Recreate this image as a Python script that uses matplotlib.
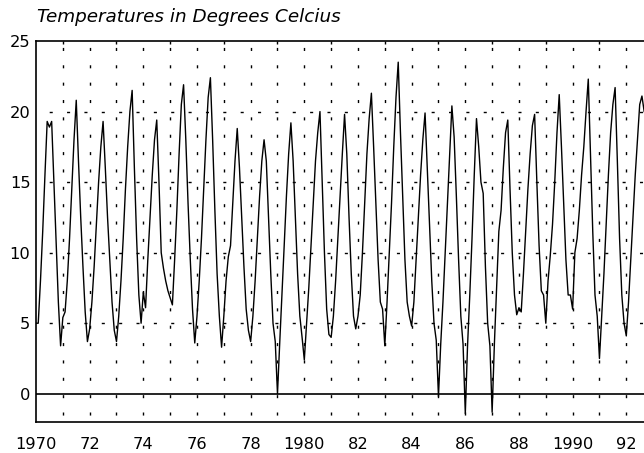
import matplotlib
matplotlib.use("Agg")
import matplotlib.pyplot as plt
import numpy as np

# monthly temperatures (Jan..Dec)
y1970 = [5.0, 5.0, 8.0, 11.5, 15.5, 19.3, 18.9, 19.3, 15.0, 10.5, 6.5, 3.4]
y1971 = [5.4, 5.8, 8.0, 11.0, 14.5, 18.0, 20.8, 16.5, 12.5, 9.0, 5.8, 3.7]
y1972 = [4.6, 6.5, 9.0, 12.0, 15.0, 17.5, 19.3, 16.0, 12.5, 9.5, 6.5, 4.5]
y1973 = [3.7, 5.5, 8.0, 11.0, 14.5, 17.5, 20.0, 21.5, 16.0, 11.0, 7.0, 5.0]
y1974 = [7.2, 6.1, 9.5, 12.5, 15.5, 18.0, 19.4, 15.0, 10.0, 8.9, 8.0, 7.3]
y1975 = [6.8, 6.3, 9.5, 13.0, 17.0, 20.5, 21.9, 18.0, 13.5, 9.5, 6.0, 3.6]
y1976 = [5.5, 8.0, 11.0, 14.5, 18.0, 21.0, 22.4, 18.0, 13.0, 8.5, 5.5, 3.3]
y1977 = [5.5, 8.0, 9.7, 10.5, 13.5, 16.5, 18.8, 16.0, 12.5, 9.0, 6.0, 4.5]
y1978 = [3.7, 5.5, 8.0, 11.0, 14.0, 16.5, 18.0, 16.5, 12.5, 8.5, 5.0, 3.7]
y1979 = [0.0, 3.6, 7.0, 10.5, 14.0, 17.0, 19.2, 16.5, 12.5, 8.5, 5.5, 4.0]
y1980 = [2.4, 5.0, 7.5, 10.5, 13.5, 16.5, 18.5, 20.0, 15.0, 10.0, 6.0, 4.2]
y1981 = [4.0, 5.5, 8.0, 11.0, 14.0, 17.0, 19.8, 17.0, 12.5, 8.5, 5.5, 4.6]
y1982 = [5.5, 7.0, 10.0, 13.5, 17.0, 19.5, 21.3, 17.5, 13.5, 9.5, 6.5, 6.0]
y1983 = [3.4, 6.5, 10.0, 13.5, 17.5, 21.0, 23.5, 18.5, 14.0, 9.5, 6.5, 5.5]
y1984 = [4.8, 6.5, 9.5, 12.5, 15.5, 18.0, 19.9, 16.0, 12.0, 8.0, 5.0, 3.8]
y1985 = [-0.2, 3.5, 6.5, 10.0, 13.5, 17.0, 20.4, 18.2, 14.0, 9.5, 5.5, 3.5]
y1986 = [-1.4, 3.4, 7.0, 11.0, 15.5, 19.5, 17.5, 15.0, 14.2, 9.0, 5.0, 3.4]
y1987 = [-1.3, 3.5, 7.5, 11.5, 13.0, 16.0, 18.5, 19.4, 14.5, 10.0, 7.0, 5.6]
y1988 = [6.1, 5.8, 8.5, 11.5, 14.5, 17.0, 19.0, 19.8, 15.0, 10.5, 7.3, 7.0]
y1989 = [5.0, 8.0, 9.8, 12.0, 15.0, 18.5, 21.2, 17.5, 13.5, 9.5, 7.0, 7.0]
y1990 = [6.0, 10.0, 11.0, 13.0, 15.5, 17.5, 20.0, 22.3, 17.0, 11.5, 7.0, 5.5]
y1991 = [2.5, 5.5, 8.5, 12.0, 15.5, 18.5, 20.5, 21.7, 16.5, 11.0, 7.0, 5.0]
y1992 = [4.1, 6.5, 9.5, 12.5, 15.5, 18.0, 20.5, 21.1, 20.0]

years = list(range(1970, 1993))
yticks = [0, 5, 10, 15, 20, 25]
xtick_years = list(range(1970, 1993, 2))
xtick_labels = ["1970", "72", "74", "76", "78", "1980", "82", "84", "86", "88", "1990", "92"]
title = "Temperatures in Degrees Celcius"

series = [y1970, y1971, y1972, y1973, y1974, y1975, y1976, y1977, y1978, y1979,
          y1980, y1981, y1982, y1983, y1984, y1985, y1986, y1987, y1988, y1989,
          y1990, y1991, y1992]

t = []
temps = []
for yr, vals in zip(years, series):
    for m, v in enumerate(vals):
        t.append(yr + m / 12.0)
        temps.append(v)

plt.rcParams['font.family'] = ['DejaVu Sans']
plt.rcParams['lines.scale_dashes'] = False

fig = plt.figure(figsize=(6.44, 4.53), dpi=100)
ax = fig.add_axes([36 / 644, 31 / 453, 1 - 36 / 644, 381 / 453])

xmax = 1992.66
ax.set_xlim(1970, xmax)
ax.set_ylim(-2, 25)

# dotted grid, drawn by hand so the dots line up like the original
dots = (7.5, (2.2, 10.3))
for yr in range(1971, 1993):
    ax.plot([yr, yr], [-2, 25], color='black', lw=1.0, linestyle=dots, zorder=1)
for v in [5, 10, 15, 20]:
    ax.plot([1970, xmax], [v, v], color='black', lw=1.0, linestyle=(3.0, (2.2, 10.3)), zorder=1)
ax.axhline(0, color='black', lw=1.2, zorder=2)

ax.plot(t, temps, color='black', lw=1.0, zorder=3)

ax.set_yticks(yticks)
ax.set_yticklabels([str(v) for v in yticks])
ax.set_xticks(xtick_years)
ax.set_xticklabels(xtick_labels)
ax.tick_params(axis='y', length=0, pad=4, labelsize=11.7)
ax.tick_params(axis='x', length=0, pad=11, labelsize=11.7)
ax.tick_params(axis='x', which='minor', top=True, bottom=False, direction='in', length=2.5, width=1)
ax.set_xticks(range(1971, 1993), minor=True)

for side in ['left', 'top', 'bottom']:
    ax.spines[side].set_linewidth(1.2)
ax.spines['right'].set_visible(False)

fig.text(37 / 644, 1 - 21.7 / 453, title, fontsize=13.2, fontstyle='italic',
         ha='left', va='baseline')

fig.savefig("out.png", dpi=100)
